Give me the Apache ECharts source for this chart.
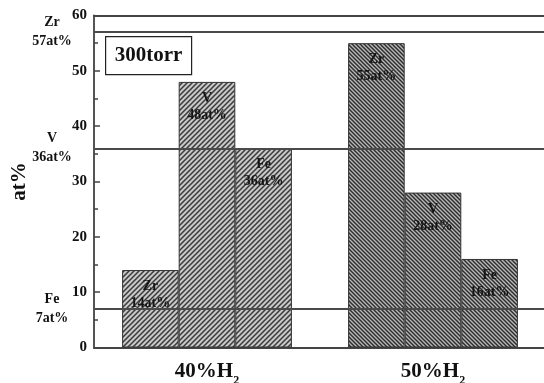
<!DOCTYPE html>
<html>
<head>
<meta charset="utf-8">
<script src="https://cdn.jsdelivr.net/npm/echarts@6/dist/echarts.min.js"></script>
<style>
html,body{margin:0;padding:0;background:#fff;}
#chart{width:544px;height:383px;}
</style>
</head>
<body>
<div id="chart"></div>
<script>
// ---- data ----
var categories = ['40%H2', '50%H2'];
var elements = ['Zr', 'V', 'Fe'];
var zrValues = [14, 55];
var vValues = [48, 28];
var feValues = [36, 16];
var refNames = ['Zr', 'V', 'Fe'];
var refValues = [57, 36, 7];
var yTicks = [0, 10, 20, 30, 40, 50, 60];

// ---- hatch patterns ----
function hatch(size, forward, bg, fg, lw) {
  var c = document.createElement('canvas');
  c.width = size; c.height = size;
  var g = c.getContext('2d');
  g.fillStyle = bg; g.fillRect(0, 0, size, size);
  g.strokeStyle = fg; g.lineWidth = lw;
  g.beginPath();
  if (forward) {
    g.moveTo(0, size); g.lineTo(size, 0);
    g.moveTo(-1, 1); g.lineTo(1, -1);
    g.moveTo(size - 1, size + 1); g.lineTo(size + 1, size - 1);
  } else {
    g.moveTo(0, 0); g.lineTo(size, size);
    g.moveTo(-1, size - 1); g.lineTo(1, size + 1);
    g.moveTo(size - 1, -1); g.lineTo(size + 1, 1);
  }
  g.stroke();
  return { image: c, repeat: 'repeat' };
}
var patA = hatch(5, true, '#c8c8c8', '#3a3a3a', 1.5);
var patB = hatch(4, false, '#bababa', '#2e2e2e', 1.5);

var FONT = '"Liberation Serif", "Times New Roman", serif';

function barSeries(name, vals, withLines) {
  var s = {
    name: name,
    type: 'bar',
    barWidth: 56.6,
    barGap: '0%',
    data: vals.map(function (v, i) {
      return { value: v, itemStyle: { color: i === 0 ? patA : patB } };
    }),
    itemStyle: { borderColor: '#333', borderWidth: 1 },
    label: {
      show: true,
      position: 'insideTop',
      distance: 8,
      formatter: function (p) { return name + '\n' + p.value + 'at%'; },
      fontFamily: FONT,
      fontWeight: 'bold',
      fontSize: 14,
      lineHeight: 17,
      color: '#151515'
    }
  };
  if (withLines) {
    s.markLine = {
      silent: true,
      symbol: 'none',
      animation: false,
      lineStyle: { color: '#4a4a4a', width: 2, type: 'solid' },
      label: {
        show: true,
        position: 'start',
        distance: 20,
        formatter: function (p) { return '{a|' + p.name + '}\n{a|' + p.value + 'at%}'; },
        rich: {
          a: { fontFamily: FONT, fontWeight: 'bold', fontSize: 14, lineHeight: 19, width: 44, align: 'center', color: '#111' }
        }
      },
      data: refValues.map(function (v, i) { return { name: refNames[i], yAxis: v }; })
    };
  }
  return s;
}

var chart = echarts.init(document.getElementById('chart'));
chart.setOption({
  animation: false,
  grid: { left: 94, top: 15.5, width: 452, height: 332, containLabel: false, outerBoundsMode: 'none' },
  xAxis: [{
    type: 'category',
    data: categories,
    axisLine: { lineStyle: { color: '#444', width: 2 } },
    axisTick: { show: false },
    axisLabel: {
      margin: 14,
      formatter: function (v) { return '{b|' + v.slice(0, -1) + '}{s|' + v.slice(-1) + '}'; },
      rich: {
        b: { fontFamily: FONT, fontWeight: 'bold', fontSize: 21, color: '#111', verticalAlign: 'top', lineHeight: 21 },
        s: { fontFamily: FONT, fontWeight: 'bold', fontSize: 12, color: '#111', verticalAlign: 'bottom', lineHeight: 25 }
      }
    }
  }, {
    type: 'category',
    position: 'top',
    data: categories,
    axisLine: { show: true, lineStyle: { color: '#444', width: 2 } },
    axisTick: { show: false },
    axisLabel: { show: false }
  }],
  yAxis: {
    type: 'value',
    min: 0, max: 60, interval: 10,
    name: 'at%',
    nameLocation: 'middle',
    nameGap: 64,
    nameTextStyle: { fontFamily: FONT, fontWeight: 'bold', fontSize: 21, color: '#111' },
    axisLine: { show: true, lineStyle: { color: '#555', width: 2 } },
    axisTick: { show: true, inside: true, length: 6, lineStyle: { color: '#444', width: 1.5 } },
    minorTick: { show: true, splitNumber: 2, length: 4, lineStyle: { color: '#444', width: 1.5 } },
    splitLine: { show: false },
    axisLabel: {
      margin: 7,
      fontFamily: FONT, fontWeight: 'bold', fontSize: 15, color: '#111',
      formatter: function (v) { return yTicks.indexOf(v) >= 0 ? String(v) : ''; }
    }
  },
  graphic: [{
    type: 'group',
    left: 105, top: 36,
    children: [{
      type: 'rect',
      shape: { x: 0, y: 0, width: 86, height: 38 },
      style: { fill: '#fff', stroke: '#222', lineWidth: 1.2 }
    }, {
      type: 'text',
      x: 43, y: 19,
      style: {
        text: '300torr', fontFamily: FONT, fontWeight: 'bold', fontSize: 21,
        fill: '#111', textAlign: 'center', textVerticalAlign: 'middle'
      }
    }]
  }],
  series: [
    barSeries(elements[0], zrValues, true),
    barSeries(elements[1], vValues, false),
    barSeries(elements[2], feValues, false)
  ]
});
</script>
</body>
</html>
